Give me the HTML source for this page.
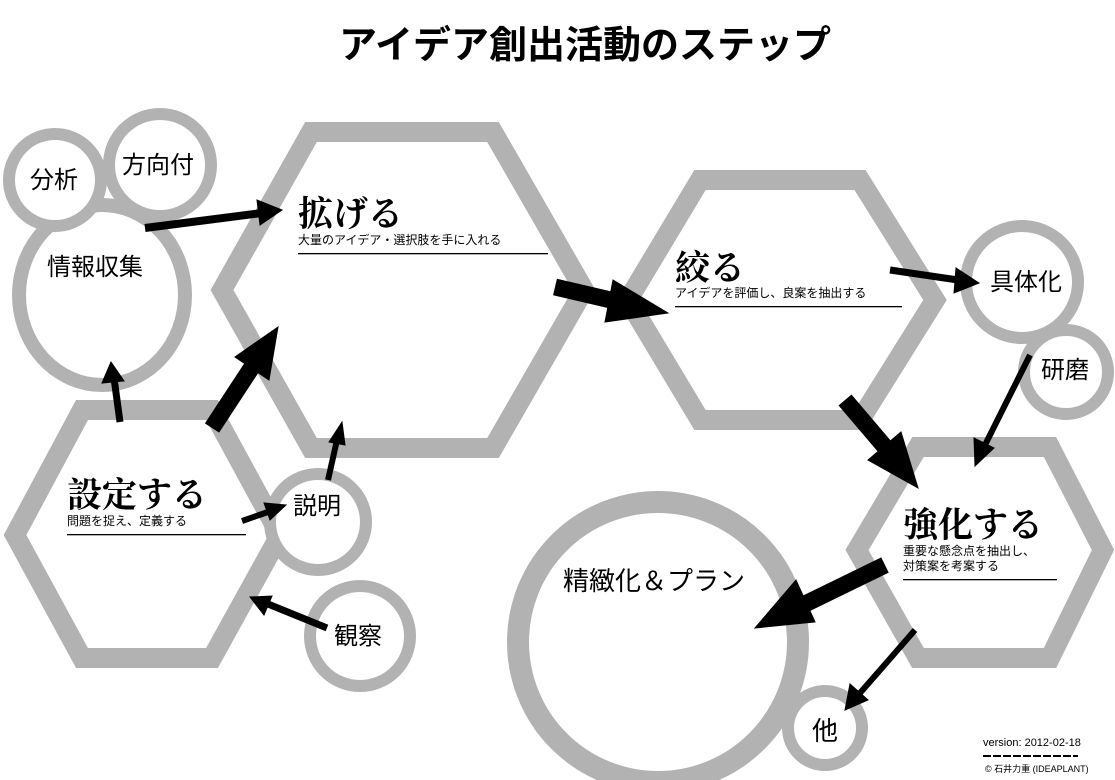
<!DOCTYPE html>
<html><head><meta charset="utf-8"><style>
html,body{margin:0;padding:0;background:#fff;}
svg{display:block;}
.s{font-family:"Liberation Sans","Noto Sans CJK JP",sans-serif;}
.h{font-family:"Liberation Serif","Noto Serif CJK SC",serif;font-weight:bold;}
</style></head><body>
<svg width="1115" height="780" viewBox="0 0 1115 780" xmlns="http://www.w3.org/2000/svg">
<rect width="1115" height="780" fill="#fff"/>
<text x="585" y="58" text-anchor="middle" class="s" font-size="38" font-weight="bold">アイデア創出活動のステップ</text>
<g fill="none" stroke="#b2b2b2">
<polygon stroke-width="20" points="222,290 311,132 493,132 584,290 493,448 311,448"/>
<polygon stroke-width="20" points="628,300 700,180 860,180 935,300 860,420 700,420"/>
<polygon stroke-width="20" points="857,550 918,447 1050,447 1103,550 1050,658 918,658"/>
<polygon stroke-width="20" points="15,535 82,410 212,410 280,535 212,658 82,658"/>
<ellipse cx="102" cy="295" rx="83" ry="90" stroke-width="14"/>
<circle cx="55" cy="180" r="46" stroke-width="12" fill="#fff"/>
<circle cx="160" cy="165" r="51" stroke-width="12" fill="#fff"/>
<circle cx="318" cy="522" r="48" stroke-width="12" fill="#fff"/>
<circle cx="360" cy="636" r="50" stroke-width="12"/>
<circle cx="1022" cy="282" r="56" stroke-width="12" fill="#fff"/>
<circle cx="1066" cy="372" r="42" stroke-width="12" fill="#fff"/>
<circle cx="658" cy="642" r="140" stroke-width="22"/>
<circle cx="825" cy="728" r="37" stroke-width="12" fill="#fff"/>
</g>
<g class="s" font-size="24" fill="#000">
<text x="30" y="188">分析</text>
<text x="122" y="173">方向付</text>
<text x="47" y="275">情報収集</text>
<text x="293" y="514">説明</text>
<text x="334" y="644">観察</text>
<text x="990" y="290">具体化</text>
<text x="1041" y="378">研磨</text>
<text x="812" y="740" font-size="26">他</text>
<text x="563" y="590" font-size="26">精緻化＆プラン</text>
</g>
<g fill="#000">
<text x="298" y="226" class="h" font-size="35">拡げる</text>
<text x="298" y="244" class="s" font-size="12">大量のアイデア・選択肢を手に入れる</text>
<rect x="298" y="253" width="250" height="1.3"/>
<text x="675" y="280" class="h" font-size="35">絞る</text>
<text x="675" y="297" class="s" font-size="12">アイデアを評価し、良案を抽出する</text>
<rect x="675" y="306" width="227" height="1.3"/>
<text x="903" y="537" class="h" font-size="35">強化する</text>
<text x="903" y="555" class="s" font-size="12">重要な懸念点を抽出し、</text>
<text x="903" y="570" class="s" font-size="12">対策案を考案する</text>
<rect x="903" y="579" width="154" height="1.3"/>
<text x="67" y="507" class="h" font-size="35">設定する</text>
<text x="67" y="525" class="s" font-size="12">問題を捉え、定義する</text>
<rect x="67" y="534" width="179" height="1.3"/>
<text x="983" y="746" class="s" font-size="11">version: 2012-02-18</text>
<text x="985" y="772" class="s" font-size="9">©  石井力重 (IDEAPLANT)</text>
</g>
<line x1="983" y1="756" x2="1078" y2="756" stroke="#000" stroke-width="2" stroke-dasharray="8,2"/>
<g stroke="#000" fill="#000">
<line x1="145" y1="228" x2="262" y2="213" stroke-width="8"/><polygon points="282,210 257,200 260,225"/>
<line x1="120" y1="422" x2="114" y2="378" stroke-width="7"/><polygon points="111,362 102,383 124,381"/>
<line x1="212" y1="428" x2="252" y2="367" stroke-width="17"/><polygon points="278,327 235,357 269,380"/>
<line x1="328" y1="480" x2="337" y2="440" stroke-width="6"/><polygon points="342,422 329,442 345,445"/>
<line x1="242" y1="521" x2="268" y2="512" stroke-width="6"/><polygon points="286,505 264,503 270,520"/>
<line x1="327" y1="628" x2="268" y2="604" stroke-width="7"/><polygon points="250,597 264,615 272,596"/>
<line x1="555" y1="287" x2="615" y2="301" stroke-width="17"/><polygon points="668,313 613,280 605,322"/>
<line x1="890" y1="270" x2="958" y2="280" stroke-width="7"/><polygon points="979,283 956,268 954,293"/>
<line x1="845" y1="400" x2="885" y2="447" stroke-width="17"/><polygon points="918,488 868,460 901,432"/>
<line x1="1030" y1="355" x2="985" y2="445" stroke-width="6"/><polygon points="975,466 974,438 994,448"/>
<line x1="885" y1="565" x2="805" y2="604" stroke-width="17"/><polygon points="755,628 796,580 815,622"/>
<line x1="915" y1="630" x2="860" y2="693" stroke-width="6"/><polygon points="845,710 850,684 868,700"/>
</g>
</svg>
</body></html>
